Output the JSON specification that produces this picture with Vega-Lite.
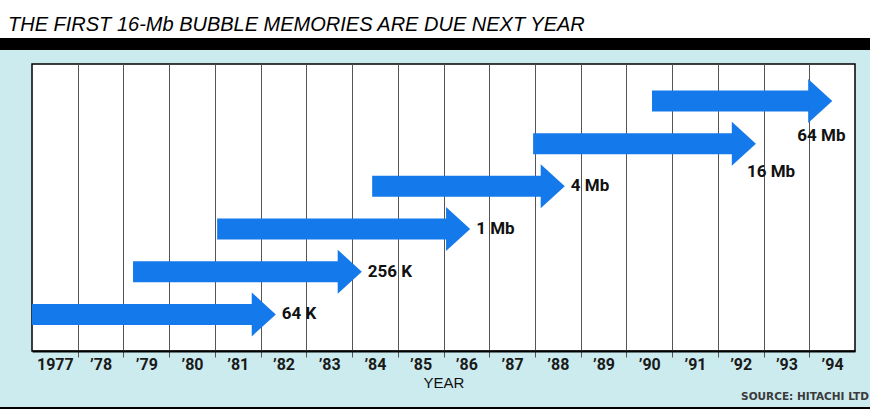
{
  "$schema": "https://vega.github.io/schema/vega-lite/v6.json",
  "background": "#ccebef",
  "padding": 0,
  "spacing": 13,
  "config": {"font": "Liberation Sans"},
  "datasets": {
    "arrows": [
      {"size": "64 K", "start": 1977.0, "end": 1981.83, "level": 1},
      {"size": "256 K", "start": 1979.21, "end": 1983.71, "level": 2},
      {"size": "1 Mb", "start": 1981.05, "end": 1986.08, "level": 3},
      {"size": "4 Mb", "start": 1984.44, "end": 1988.15, "level": 4},
      {"size": "16 Mb", "start": 1987.96, "end": 1992.33, "level": 5},
      {"size": "64 Mb", "start": 1990.56, "end": 1994.0, "level": 6}
    ]
  },
  "vconcat": [
    {
      "spacing": 0,
      "vconcat": [
        {
          "width": 870,
          "height": 38,
          "data": {"values": []},
          "mark": "rect",
          "view": {"fill": "white", "stroke": null},
          "title": {
            "text": "THE FIRST 16-Mb BUBBLE MEMORIES ARE DUE NEXT YEAR",
            "anchor": "start",
            "frame": "group",
            "orient": "bottom",
            "offset": -7,
            "baseline": "alphabetic",
            "dx": 8,
            "fontSize": 20,
            "fontStyle": "italic",
            "fontWeight": "normal",
            "font": "Liberation Sans",
            "color": "black"
          }
        },
        {
          "width": 870,
          "height": 12,
          "data": {"values": []},
          "mark": "rect",
          "view": {"fill": "black", "stroke": null}
        }
      ]
    },
    {
      "spacing": 3,
      "vconcat": [
        {
          "spacing": 0,
          "hconcat": [
            {
              "width": 31,
              "height": 287,
              "data": {"values": []},
              "mark": "rect",
              "view": {"fill": null, "stroke": null}
            },
            {
              "width": 823,
              "height": 287,
              "view": {"fill": "white", "stroke": "black", "strokeWidth": 1.5},
              "data": {"name": "arrows"},
              "title": {
                "text": "SOURCE: HITACHI LTD",
                "orient": "bottom",
                "anchor": "end",
                "frame": "group",
                "dx": 14,
                "offset": 2,
                "fontSize": 10.5,
                "font": "DejaVu Sans",
                "fontWeight": "bold",
                "color": "#3a3a3a"
              },
              "resolve": {"axis": {"x": "independent"}},
              "layer": [
                {
                  "mark": {"type": "bar", "color": "#1479ea", "size": 21},
                  "encoding": {
                    "x": {
                      "field": "start", "type": "quantitative",
                      "scale": {"domain": [1977, 1995], "nice": false, "zero": false},
                      "axis": {
                        "orient": "bottom",
                        "values": [1978, 1979, 1980, 1981, 1982, 1983, 1984, 1985, 1986, 1987, 1988, 1989, 1990, 1991, 1992, 1993, 1994],
                        "grid": true, "gridColor": "#555", "gridWidth": 1, "gridOpacity": 1,
                        "ticks": true, "tickSize": 6, "tickColor": "#555", "tickWidth": 1,
                        "labels": false, "domain": false, "title": null
                      }
                    },
                    "x2": {"field": "end"},
                    "y": {"field": "level", "type": "quantitative", "axis": null, "scale": {"domain": [0.26, 6.75], "nice": false, "zero": false}}
                  }
                },
                {
                  "mark": {"type": "point", "shape": "M-0.05,-1L1.045,0L-0.05,1Z", "size": 1936, "filled": true, "opacity": 1, "color": "#1479ea", "strokeWidth": 0},
                  "encoding": {
                    "x": {
                      "field": "end", "type": "quantitative",
                      "axis": {
                        "orient": "bottom",
                        "values": [1977.5, 1978.5, 1979.5, 1980.5, 1981.5, 1982.5, 1983.5, 1984.5, 1985.5, 1986.5, 1987.5, 1988.5, 1989.5, 1990.5, 1991.5, 1992.5, 1993.5, 1994.5],
                        "labelExpr": "datum.value < 1978 ? '1977' : '’' + substring(toString(floor(datum.value)), 2, 4)",
                        "grid": false, "ticks": false,
                        "domain": true, "domainColor": "black", "domainWidth": 2,
                        "labelFont": "Roboto", "labelFontSize": 16, "labelFontWeight": "bold", "labelColor": "#1a1a1a",
                        "labelPadding": 5, "labelFlush": false, "labelOverlap": false,
                        "title": "YEAR", "titleFont": "Liberation Sans", "titleFontSize": 15, "titleFontWeight": "normal",
                        "titlePadding": 3, "titleColor": "#111"
                      }
                    },
                    "y": {"field": "level", "type": "quantitative", "axis": null}
                  }
                },
                {
                  "transform": [{"filter": "datum.level <= 4"}],
                  "mark": {"type": "text", "align": "left", "baseline": "middle", "dx": 29, "font": "Roboto", "fontSize": 17, "fontWeight": "bold", "color": "#111"},
                  "encoding": {
                    "x": {"field": "end", "type": "quantitative", "axis": null},
                    "y": {"field": "level", "type": "quantitative", "axis": null},
                    "text": {"field": "size"}
                  }
                },
                {
                  "transform": [{"filter": "datum.level == 5"}],
                  "mark": {"type": "text", "align": "left", "baseline": "middle", "dx": 14, "dy": 28, "font": "Roboto", "fontSize": 17, "fontWeight": "bold", "color": "#111"},
                  "encoding": {
                    "x": {"field": "end", "type": "quantitative", "axis": null},
                    "y": {"field": "level", "type": "quantitative", "axis": null},
                    "text": {"field": "size"}
                  }
                },
                {
                  "transform": [{"filter": "datum.level == 6"}],
                  "mark": {"type": "text", "align": "left", "baseline": "middle", "dx": -12, "dy": 35, "font": "Roboto", "fontSize": 17, "fontWeight": "bold", "color": "#111"},
                  "encoding": {
                    "x": {"field": "end", "type": "quantitative", "axis": null},
                    "y": {"field": "level", "type": "quantitative", "axis": null},
                    "text": {"field": "size"}
                  }
                }
              ]
            }
          ]
        },
        {
          "width": 870,
          "height": 2,
          "data": {"values": []},
          "mark": "rect",
          "view": {"fill": "black", "stroke": null}
        }
      ]
    }
  ]
}
